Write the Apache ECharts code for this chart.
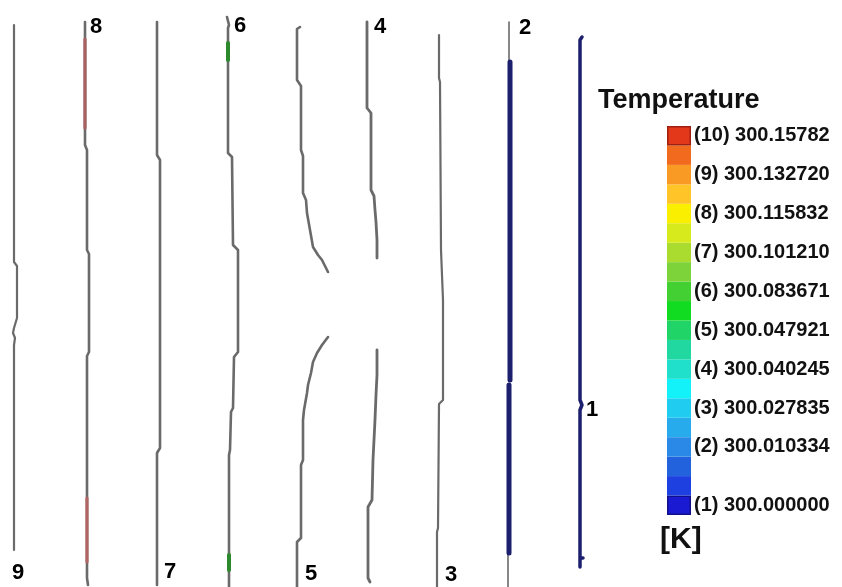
<!DOCTYPE html>
<html>
<head>
<meta charset="utf-8">
<script src="https://cdn.jsdelivr.net/npm/echarts@6/dist/echarts.min.js"></script>
<style>html,body{margin:0;padding:0;background:#fff}#c{width:842px;height:587px}</style>
</head>
<body>
<div id="c"></div>
<script>
// Contour lines: [x, depth] in domain units (x 0..60, depth 0..58.7 measured from top)
const line9 = [[1.4,2.5],[1.4,26.2],[1.7,26.6],[1.7,31.8],[1.4,32.8],[1.3,33.3],[1.5,33.8],[1.4,34.5],[1.4,55.0]];
const line8 = [[8.5,2.2],[8.5,14.5],[8.7,15.0],[8.7,25.0],[8.9,25.4],[8.9,35.2],[8.7,35.6],[8.7,57.8],[8.8,58.5]];
const line8RedA = [[8.5,3.9],[8.5,12.8]];
const line8RedB = [[8.7,49.8],[8.7,56.2]];
const line7 = [[15.7,2.2],[15.7,15.5],[16.0,16.0],[16.0,44.8],[15.7,45.3],[15.7,58.5]];
const line6 = [[22.7,1.7],[22.9,2.5],[22.8,2.8],[22.8,15.3],[23.2,15.7],[23.3,24.5],[23.8,25.0],[23.8,35.2],[23.4,35.7],[23.3,40.8],[23.1,41.2],[23.0,45.0],[22.9,45.5],[22.9,58.7]];
const line6GreenA = [[22.8,4.3],[22.8,6.0]];
const line6GreenB = [[22.9,55.5],[22.9,57.0]];
const line5Upper = [[30.0,2.7],[29.7,2.9],[29.7,8.0],[30.1,8.6],[30.1,15.0],[30.3,15.6],[30.3,19.3],[30.6,20.0],[30.7,21.3],[31.0,23.0],[31.3,24.7],[31.8,25.5],[32.2,26.0],[32.8,27.2]];
const line5Lower = [[32.8,33.7],[32.2,34.5],[31.7,35.3],[31.3,36.2],[31.1,37.3],[30.8,38.5],[30.7,39.3],[30.4,41.0],[30.3,42.0],[30.3,46.0],[30.1,46.5],[30.1,53.8],[29.7,54.2],[29.7,58.7]];
const line4Upper = [[36.7,2.2],[36.7,10.8],[37.1,11.3],[37.1,19.0],[37.4,19.6],[37.5,21.0],[37.6,22.2],[37.7,24.0],[37.7,25.8]];
const line4Lower = [[37.7,35.0],[37.7,37.5],[37.6,39.5],[37.5,42.0],[37.3,46.0],[37.2,50.0],[36.8,50.7],[36.8,57.8],[37.0,58.2]];
const line3 = [[43.9,3.5],[43.9,7.8],[44.0,8.2],[44.1,25.0],[44.3,30.0],[44.3,40.0],[43.9,40.4],[43.8,52.8],[43.7,53.2],[43.7,58.7]];
const line2GrayTop = [[50.9,2.2],[50.9,6.2]];
const line2NavyA = [[51.0,6.2],[51.0,38.0]];
const line2NavyB = [[50.9,38.5],[50.9,55.3]];
const line2GrayBottom = [[50.8,55.3],[50.8,58.7]];
const line1 = [[58.2,3.7],[58.0,4.0],[58.0,40.0],[58.2,40.5],[58.0,41.0],[58.0,55.8],[58.3,55.8],[58.0,55.8],[58.0,56.7]];

// Contour labels: [x, depth, text]
const contourLabels = [[9.6,2.7,'8'],[24.0,2.6,'6'],[38.0,2.7,'4'],[52.5,2.8,'2'],[59.2,41.0,'1'],
                       [1.8,57.3,'9'],[17.0,57.2,'7'],[31.1,57.4,'5'],[45.1,57.5,'3']];

// Colour bar
const bandColors = ['#1a1ad2','#1e40e0','#2262dc','#2a88e6','#28abec','#20ccf0','#12f2f8','#20e0cc',
                    '#20d8a0','#20d468','#12dc22','#42d032','#7cd43a','#aadc30','#d6ea1c','#fbef00',
                    '#ffc428','#f99a24','#f26a1e','#e4381a'];
const levelIndex = [0,3,5,7,9,11,13,15,17,19];
const levelLabels = ['(1) 300.000000','(2) 300.010334','(3) 300.027835','(4) 300.040245','(5) 300.047921',
                     '(6) 300.083671','(7) 300.101210','(8) 300.115832','(9) 300.132720','(10) 300.15782'];

const GRAY = '#6a6a6a', NAVY = '#1c1f6e';
const FONT = '"Liberation Sans", Arial, sans-serif';
const chart = echarts.init(document.getElementById('c'), null, {renderer:'canvas'});

function ln(data, color, width, z) {
  return {type:'line', data, xAxisIndex:0, yAxisIndex:0, showSymbol:false, symbol:'none',
          lineStyle:{color, width, cap:'round', join:'round'}, z:z||2, silent:true, animation:false};
}

const series = [
  ln(line9, GRAY, 2.2), ln(line8, GRAY, 2.6), ln(line8RedA, '#a86060', 3.2, 3), ln(line8RedB, '#b06464', 3.2, 3),
  ln(line7, GRAY, 2.6), ln(line6, GRAY, 2.6), ln(line6GreenA, '#2c8a2c', 4, 3), ln(line6GreenB, '#2c8a2c', 4, 3),
  ln(line5Upper, GRAY, 2.6), ln(line5Lower, GRAY, 2.6), ln(line4Upper, GRAY, 2.8), ln(line4Lower, GRAY, 2.8),
  ln(line3, GRAY, 2.2), ln(line2GrayTop, GRAY, 1.6), ln(line2NavyA, NAVY, 5, 3), ln(line2NavyB, NAVY, 5, 3),
  ln(line2GrayBottom, GRAY, 1.6), ln(line1, NAVY, 3.5, 3),
  {type:'scatter', xAxisIndex:0, yAxisIndex:0, data:contourLabels, symbol:'circle', symbolSize:0,
   itemStyle:{color:'#111', opacity:1},
   label:{show:true, position:'inside', formatter:p=>p.value[2], color:'#000', opacity:1, fontSize:22, fontWeight:'bold',
          fontFamily:FONT, textBorderWidth:0},
   emphasis:{disabled:true}, z:5, silent:true, animation:false},
  {type:'bar', xAxisIndex:1, yAxisIndex:1, barCategoryGap:'0%', animation:false, silent:true,
   data: bandColors.map((c,i)=>({value:1, itemStyle:{color:c,
     borderColor: i===0 ? '#10108a' : (i===bandColors.length-1 ? '#a02010' : c), borderWidth: (i===0||i===bandColors.length-1)?1.5:0}}))}
];

chart.setOption({
  backgroundColor:'#ffffff',
  animation:false,
  grid:[{left:0, top:0, width:600, height:587},
        {left:667, top:126, width:24, height:389}],
  xAxis:[{type:'value', min:0, max:60, show:false, gridIndex:0},
         {type:'value', min:0, max:1, show:false, gridIndex:1}],
  yAxis:[{type:'value', min:0, max:58.7, inverse:true, show:false, gridIndex:0},
         {type:'category', gridIndex:1, position:'right', data:bandColors.map((c,i)=>String(i)),
          axisLine:{show:false}, axisTick:{show:false},
          axisLabel:{show:true, margin:3, interval:(i)=>levelIndex.indexOf(i)>=0,
            formatter:(v,i)=>{const k=levelIndex.indexOf(i); return k>=0?levelLabels[k]:'';},
            color:'#111', fontSize:20, fontWeight:'bold', fontFamily:FONT}}],
  graphic:[
    {type:'text', left:598, top:87, style:{text:'Temperature', fill:'#111', font:'bold 27px ' + FONT}},
    {type:'text', left:660, top:525, style:{text:'[K]', fill:'#111', font:'bold 30px ' + FONT}}
  ],
  series
});
</script>
</body>
</html>
